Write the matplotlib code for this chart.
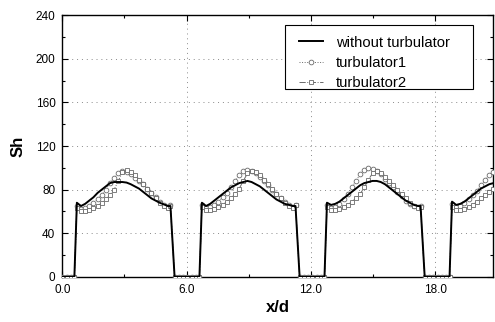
import matplotlib
matplotlib.use("Agg")
import matplotlib.pyplot as plt
from matplotlib.ticker import MultipleLocator, FixedLocator
from matplotlib.patches import Rectangle

plt.rcParams['font.family'] = ['Liberation Sans', 'DejaVu Sans']

x_vals = [0.0, 0.2, 0.4, 0.58, 0.70, 0.9, 1.1, 1.3, 1.5, 1.7, 1.9, 2.1, 2.3, 2.5, 2.7, 2.9, 3.1, 3.3, 3.5, 3.7, 3.9, 4.1, 4.3, 4.5, 4.7, 4.9, 5.1, 5.22, 5.42, 5.62, 5.82,
          6.04, 6.24, 6.44, 6.62, 6.74, 6.94, 7.14, 7.34, 7.54, 7.74, 7.94, 8.14, 8.34, 8.54, 8.74, 8.94, 9.14, 9.34, 9.54, 9.74, 9.94, 10.14, 10.34, 10.54, 10.74, 10.94, 11.14, 11.26, 11.46, 11.66, 11.86,
          12.08, 12.28, 12.48, 12.66, 12.78, 12.98, 13.18, 13.38, 13.58, 13.78, 13.98, 14.18, 14.38, 14.58, 14.78, 14.98, 15.18, 15.38, 15.58, 15.78, 15.98, 16.18, 16.38, 16.58, 16.78, 16.98, 17.18, 17.30, 17.50, 17.70, 17.90,
          18.12, 18.32, 18.52, 18.70, 18.82, 19.02, 19.22, 19.42, 19.62, 19.82, 20.02, 20.22, 20.42, 20.62, 20.82, 21.02]

sh_without = [0, 0, 0, 0, 68, 65, 67, 70, 73, 77, 80, 83, 86, 87, 87, 87, 86.5, 85, 83, 81, 78, 75, 72, 70, 68, 66.5, 65, 65, 0, 0, 0,
              0, 0, 0, 0, 68, 65, 67, 70, 73, 76, 79, 82, 84, 86, 87, 88, 87, 85, 83, 80, 77, 74, 71, 69, 67, 66, 65, 65, 0, 0, 0,
              0, 0, 0, 0, 68, 66, 67, 69, 72, 75, 78, 81, 84, 86, 87, 88, 88, 87, 85, 82, 79, 76, 73, 70, 68, 66, 65, 65, 0, 0, 0,
              0, 0, 0, 0, 69, 66, 67, 69, 72, 75, 78, 81, 83, 85, 86, 87]

sh_turb1 = [0, 0, 0, 0, 65, 62, 63, 65, 68, 71, 75, 80, 86, 91, 95, 97, 96, 94, 91, 88, 85, 81, 77, 73, 69, 66, 64, 66, 0, 0, 0,
            0, 0, 0, 0, 66, 63, 64, 66, 69, 73, 77, 82, 88, 93, 97, 98, 97, 95, 92, 88, 84, 80, 76, 72, 69, 66, 64, 66, 0, 0, 0,
            0, 0, 0, 0, 66, 63, 64, 67, 71, 76, 82, 88, 94, 98, 100, 99, 97, 94, 90, 86, 82, 78, 74, 70, 67, 65, 64, 65, 0, 0, 0,
            0, 0, 0, 0, 67, 64, 65, 68, 71, 75, 79, 84, 89, 93, 96, 98]

sh_turb2 = [0, 0, 0, 0, 63, 60, 60, 61, 63, 65, 68, 71, 75, 80, 88, 96, 98, 96, 93, 89, 85, 81, 77, 72, 68, 65, 63, 65, 0, 0, 0,
            0, 0, 0, 0, 64, 61, 61, 62, 64, 66, 69, 72, 76, 81, 88, 95, 97, 96, 93, 89, 85, 81, 76, 72, 68, 65, 63, 66, 0, 0, 0,
            0, 0, 0, 0, 64, 61, 61, 62, 64, 66, 69, 72, 76, 82, 89, 95, 97, 95, 92, 88, 84, 80, 76, 72, 68, 65, 63, 64, 0, 0, 0,
            0, 0, 0, 0, 64, 61, 61, 62, 64, 66, 69, 72, 75, 78, 81, 83]

x_major = [0, 6, 12, 18]
x_labels = ["0.0", "6.0", "12.0", "18.0"]
y_major = [0, 40, 80, 120, 160, 200, 240]

fig = plt.figure(figsize=(4.95, 3.22), dpi=100)
ax = fig.add_axes([0.126, 0.14, 0.87, 0.813])

mk_col = '#6a6a6a'
ax.plot(x_vals, sh_turb1, linestyle=':', color=mk_col, lw=0.7, marker='o', ms=3.4,
        mfc='white', mec=mk_col, mew=0.6, label='turbulator1', zorder=3)
ax.plot(x_vals, sh_turb2, linestyle='-.', color=mk_col, lw=0.7, marker='s', ms=3.2,
        mfc='white', mec=mk_col, mew=0.6, label='turbulator2', zorder=3)
ax.plot(x_vals, sh_without, color='black', lw=1.4, label='without turbulator', zorder=4)

ax.set_xlim(0, 20.8)
ax.set_ylim(0, 240)
ax.xaxis.set_major_locator(FixedLocator(x_major))
ax.set_xticklabels(x_labels)
ax.xaxis.set_minor_locator(FixedLocator([3, 9, 15]))
ax.yaxis.set_major_locator(FixedLocator(y_major))
ax.yaxis.set_minor_locator(MultipleLocator(20))
ax.tick_params(which='both', direction='in', top=True, right=True, labelsize=8.5, width=0.8)
ax.tick_params(which='major', length=4)
ax.tick_params(which='minor', length=2.5)
ax.tick_params(axis='x', pad=5)
ax.tick_params(axis='y', pad=5)
for s in ax.spines.values():
    s.set_linewidth(1.0)

ax.grid(True, which='major', color='#8a8a8a', linestyle=(0, (1, 4)), lw=0.7)

ax.set_xlabel('x/d', fontsize=12, fontweight='bold', labelpad=3)
ax.set_ylabel('Sh', fontsize=12, fontweight='bold', labelpad=7)

# legend frame as in the reference (wide side padding)
frame = Rectangle((0.517, 0.718), 0.436, 0.244, transform=ax.transAxes,
                  facecolor='white', edgecolor='black', lw=0.8, zorder=5)
ax.add_patch(frame)

h, l = ax.get_legend_handles_labels()
order = [2, 0, 1]
leg = ax.legend([h[i] for i in order], [l[i] for i in order], loc='upper left',
                bbox_to_anchor=(0.55, 0.922), fontsize=10.6, frameon=False,
                handlelength=1.6, borderpad=0.0, borderaxespad=0.0, numpoints=1,
                labelspacing=0.42, handletextpad=0.9)
leg.set_zorder(6)

fig.savefig('out.png', dpi=100)
